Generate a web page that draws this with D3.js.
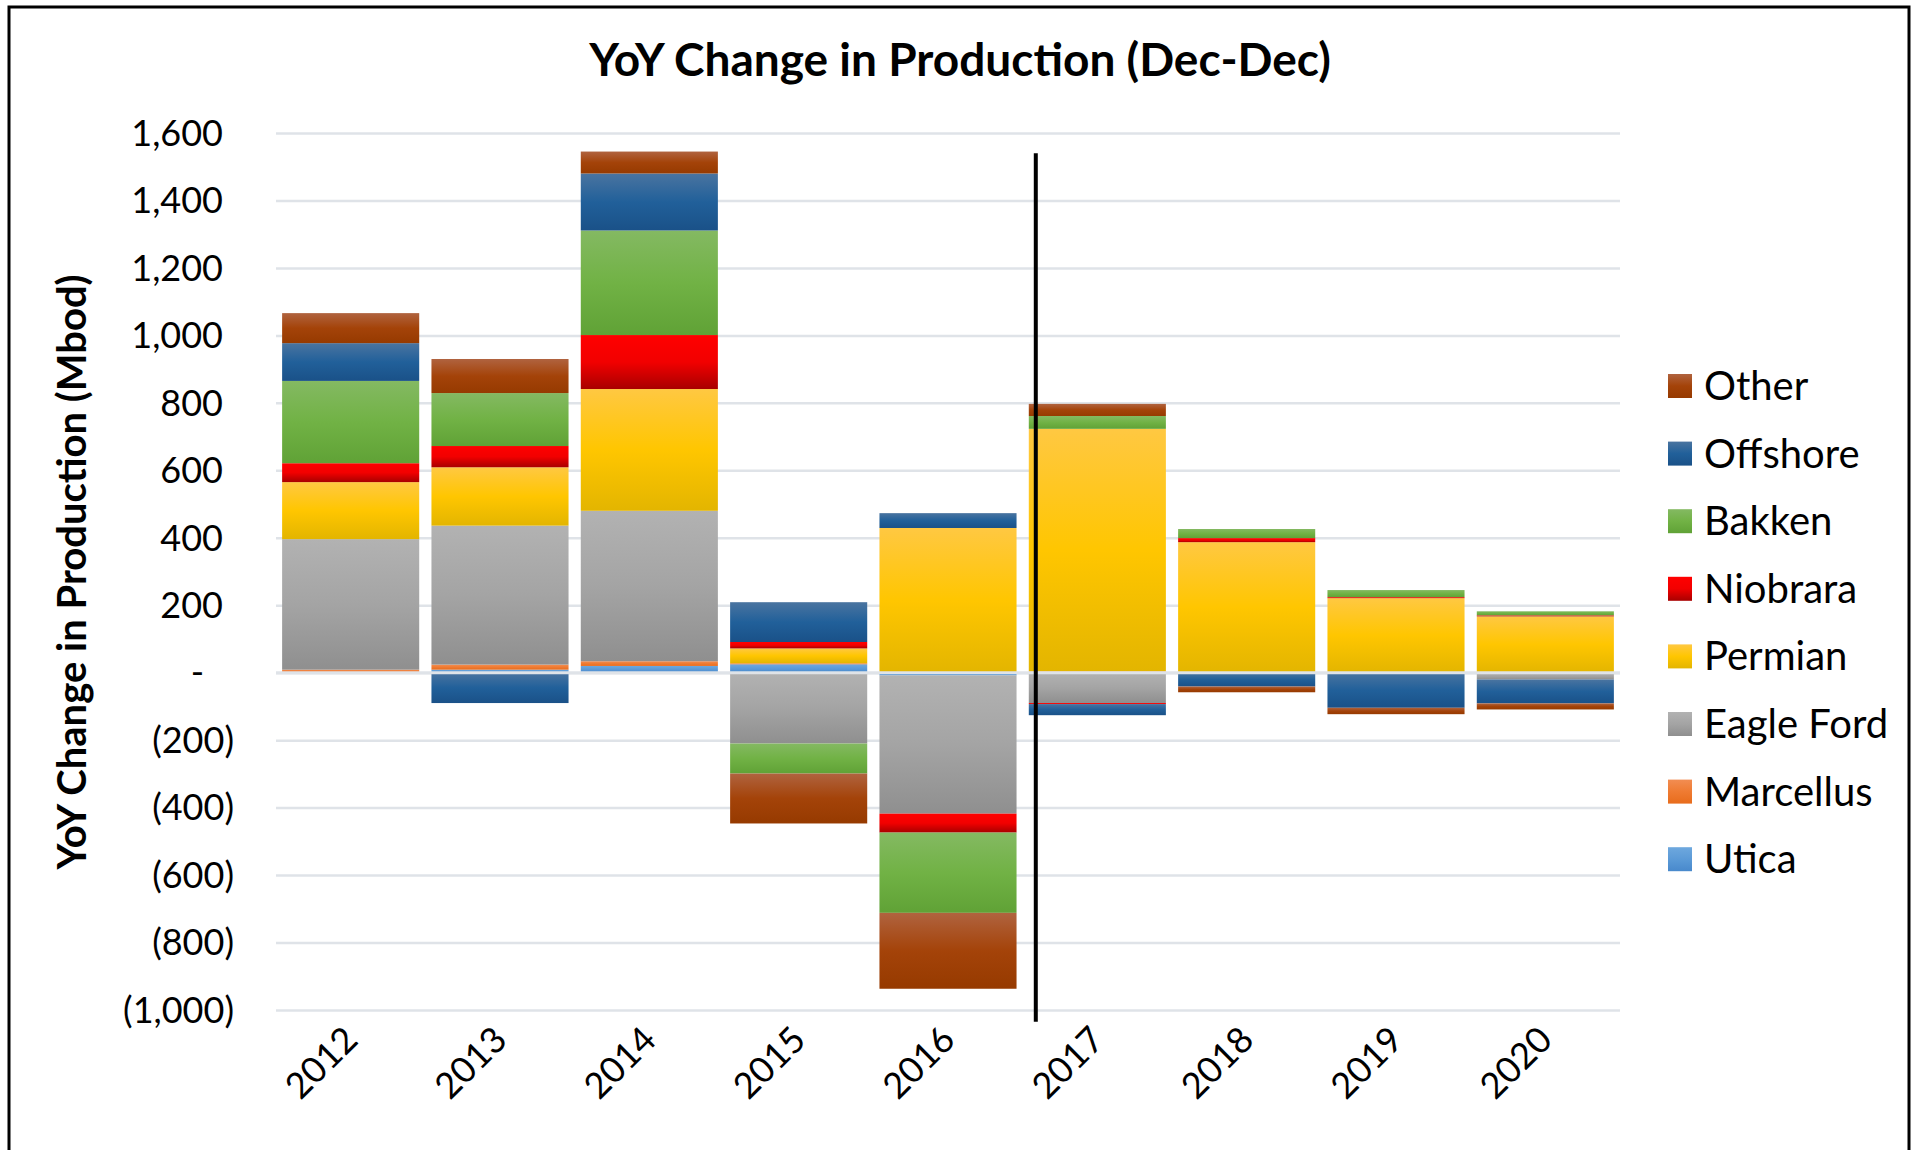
<!DOCTYPE html>
<html>
<head>
<meta charset="utf-8">
<script src="https://cdn.jsdelivr.net/npm/d3@7"></script>
<style>
  body { margin: 0; background: #fff; }
  svg { display: block; font-family: Lato, "Open Sans", sans-serif; }
</style>
</head>
<body>
<div id="chart"></div>
<script>
// Categories and series (stack order bottom -> top)
const years = ["2012", "2013", "2014", "2015", "2016", "2017", "2018", "2019", "2020"];
const basins = ["Utica", "Marcellus", "Eagle Ford", "Permian", "Niobrara", "Bakken", "Offshore", "Other"];

// YoY change (Mbod) per basin, one value per year
const utica     = [0, 9, 20, 25, -8, 0, 0, 0, 0];
const marcellus = [9, 15, 14, 3, 0, 4, 0, 0, 0];
const eagleFord = [387, 412, 446, -210, -410, -90, 0, 0, -20];
const permian   = [169, 173, 361, 44, 429, 719, 387, 221, 167];
const niobrara  = [56, 63, 160, 19, -56, -3, 12, 3, 3];
const bakken    = [244, 157, 310, -89, -238, 38, 27, 21, 12];
const offshore  = [112, -90, 169, 118, 44, -33, -41, -104, -71];
const other     = [89, 101, 65, -148, -225, 36, -17, -19, -18];

const yTicks = [1600, 1400, 1200, 1000, 800, 600, 400, 200, 0, -200, -400, -600, -800, -1000];

// forecast divider, drawn between 2016 and 2017 (value extent)
const dividerExtent = [1540, -1035];

const seriesValues = {
  "Utica": utica, "Marcellus": marcellus, "Eagle Ford": eagleFord, "Permian": permian,
  "Niobrara": niobrara, "Bakken": bakken, "Offshore": offshore, "Other": other
};

// gradient stops [top, middle, bottom]
const colors = {
  "Other":      ["#b0633f", "#a44309", "#963a00"],
  "Offshore":   ["#4a74a0", "#21609a", "#1a5188"],
  "Bakken":     ["#84b962", "#71b245", "#60a236"],
  "Niobrara":   ["#ff0000", "#f20000", "#a80000"],
  "Permian":    ["#ffc842", "#ffc600", "#e3b500"],
  "Eagle Ford": ["#b2b2b2", "#a4a4a4", "#8f8f8f"],
  "Marcellus":  ["#f28d52", "#ef7b32", "#e86c1c"],
  "Utica":      ["#6ea8de", "#5b9ad7", "#4889cc"]
};

const table = years.map((yr, i) => {
  const row = { year: yr };
  basins.forEach(b => { row[b] = seriesValues[b][i]; });
  return row;
});

const W = 1919, H = 1150;
const svg = d3.select("#chart").append("svg")
  .attr("width", W).attr("height", H);

const defs = svg.append("defs");
basins.forEach((b, i) => {
  const g = defs.append("linearGradient")
    .attr("id", "grad" + i)
    .attr("x1", 0).attr("y1", 0).attr("x2", 0).attr("y2", 1);
  g.append("stop").attr("offset", "0%").attr("stop-color", colors[b][0]);
  g.append("stop").attr("offset", "50%").attr("stop-color", colors[b][1]);
  g.append("stop").attr("offset", "100%").attr("stop-color", colors[b][2]);
});

// outer border
svg.append("rect")
  .attr("x", 9).attr("y", 7).attr("width", 1900).attr("height", 1160)
  .attr("fill", "none").attr("stroke", "#000").attr("stroke-width", 3);

const plot = { left: 276, right: 1620, top: 133, bottom: 1010 };

const x = d3.scaleBand()
  .domain(years)
  .range([plot.left, plot.right])
  .paddingInner(0.082)
  .paddingOuter(0.041);

const y = d3.scaleLinear()
  .domain([-1000, 1600])
  .range([plot.bottom, plot.top]);

// gridlines
svg.append("g")
  .attr("transform", "translate(" + plot.left + ",0)")
  .call(d3.axisLeft(y).tickValues(yTicks).tickSize(-(plot.right - plot.left)).tickFormat(""))
  .call(g => g.select(".domain").remove())
  .call(g => g.selectAll("line").attr("stroke", "#dfe3e8").attr("stroke-width", 2.5));

// stacked bars
const stack = d3.stack().keys(basins).offset(d3.stackOffsetDiverging);
const layers = stack(table);

svg.append("g").selectAll("g")
  .data(layers)
  .join("g")
  .attr("fill", (d, i) => "url(#grad" + i + ")")
  .selectAll("rect")
  .data(d => d.filter(p => p[1] !== p[0]))
  .join("rect")
  .attr("x", d => x(d.data.year))
  .attr("width", x.bandwidth())
  .attr("y", d => y(Math.max(d[0], d[1])))
  .attr("height", d => Math.abs(y(d[0]) - y(d[1])));

// zero line over the bars
svg.append("line")
  .attr("x1", plot.left).attr("x2", plot.right)
  .attr("y1", y(0)).attr("y2", y(0))
  .attr("stroke", "#dfe3e8").attr("stroke-width", 3);

// divider line
const divX = x("2017") + 7;
svg.append("line")
  .attr("x1", divX).attr("x2", divX)
  .attr("y1", y(dividerExtent[0])).attr("y2", y(dividerExtent[1]))
  .attr("stroke", "#000").attr("stroke-width", 4);

// y axis labels
const fmt = d3.format(",");
const yAxis = svg.append("g")
  .attr("transform", "translate(234,0)")
  .call(d3.axisLeft(y).tickValues(yTicks).tickSize(0).tickPadding(0)
    .tickFormat(v => v > 0 ? fmt(v) : v < 0 ? "(" + fmt(-v) + ")" : "-"));
yAxis.select(".domain").remove();
yAxis.selectAll("text")
  .attr("font-family", "Lato, sans-serif")
  .attr("font-size", 36)
  .attr("fill", "#000")
  .attr("dy", "0.34em")
  .attr("x", v => v > 0 ? -11 : v < 0 ? 0 : -30);

// x axis labels
svg.append("g").selectAll("text")
  .data(years)
  .join("text")
  .attr("transform", d => "translate(" + (x(d) + x.bandwidth() / 2 + 9) + ",1042) rotate(-45)")
  .attr("text-anchor", "end")
  .attr("font-size", 36)
  .attr("fill", "#000")
  .text(d => d);

// title
svg.append("text")
  .attr("x", 960).attr("y", 76)
  .attr("text-anchor", "middle")
  .attr("font-size", 46).attr("font-weight", "bold")
  .attr("fill", "#000")
  .text("YoY Change in Production (Dec-Dec)");

// y axis title
svg.append("text")
  .attr("transform", "translate(86,572) rotate(-90)")
  .attr("text-anchor", "middle")
  .attr("font-size", 40).attr("font-weight", "bold")
  .attr("fill", "#000")
  .text("YoY Change in Production (Mbod)");

// legend (top item = last series)
const legendItems = basins.slice().reverse();
const legend = svg.append("g").selectAll("g")
  .data(legendItems)
  .join("g")
  .attr("transform", (d, i) => "translate(1668," + (374 + i * 67.6) + ")");
legend.append("rect")
  .attr("width", 24).attr("height", 24)
  .attr("fill", d => "url(#grad" + basins.indexOf(d) + ")");
legend.append("text")
  .attr("x", 36).attr("y", 26)
  .attr("font-size", 40)
  .attr("fill", "#000")
  .text(d => d);
</script>
</body>
</html>
